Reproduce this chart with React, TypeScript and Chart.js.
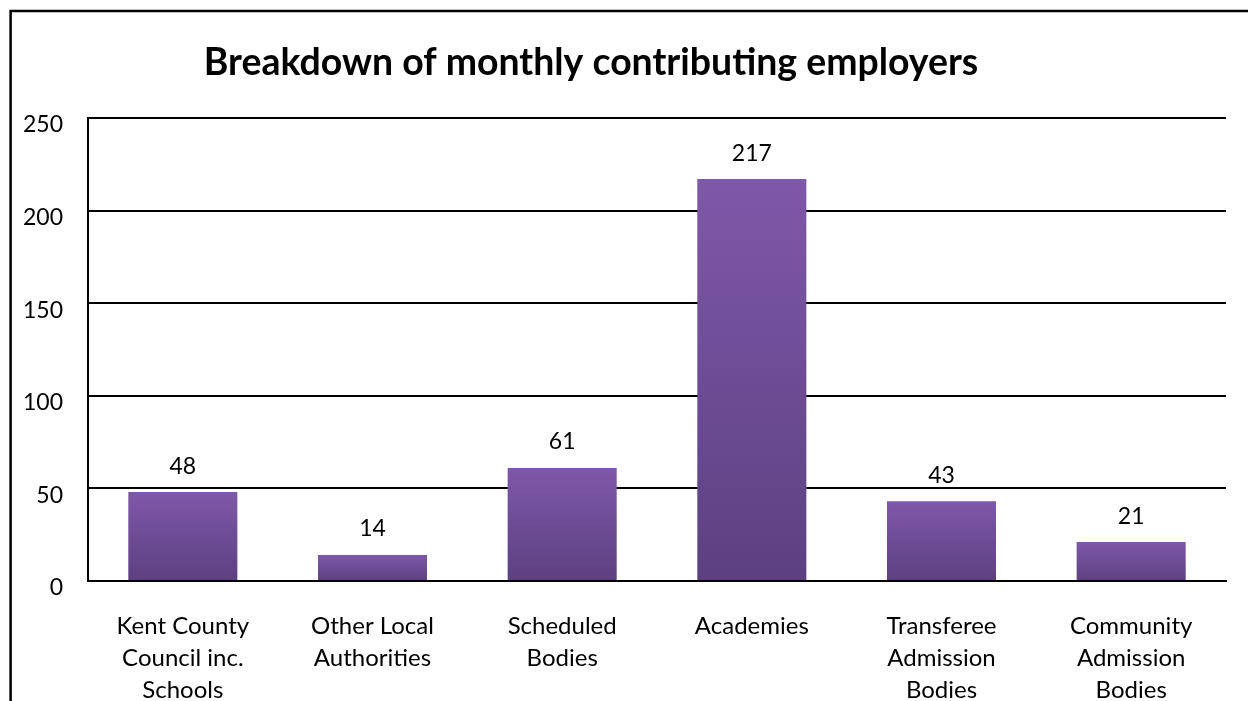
import React, { useEffect, useRef } from "react";
import { Chart, registerables } from "chart.js";

Chart.register(...registerables);

const TITLE = "Breakdown of monthly contributing employers";
const categories: string[][] = [
  ["Kent County", "Council inc.", "Schools"],
  ["Other Local", "Authorities"],
  ["Scheduled", "Bodies"],
  ["Academies"],
  ["Transferee", "Admission", "Bodies"],
  ["Community", "Admission", "Bodies"],
];
const employers: number[] = [48, 14, 61, 217, 43, 21];
const yMin = 0;
const yMax = 250;
const yStep = 50;

const FONT = "Lato, 'Open Sans', sans-serif";

const framePlugin = {
  id: "frame",
  beforeDraw(chart: any) {
    const ctx = chart.ctx;
    ctx.save();
    ctx.fillStyle = "#fff";
    ctx.fillRect(0, 0, chart.width, chart.height);
    ctx.strokeStyle = "#000";
    ctx.lineWidth = 2.5;
    ctx.strokeRect(10.6, 11, chart.width + 50, chart.height + 50);
    // title, fitted to the reference width
    const target = 775;
    ctx.font = `bold 100px ${FONT}`;
    const w = ctx.measureText(TITLE).width;
    const size = (100 * target) / w;
    ctx.font = `bold ${size}px ${FONT}`;
    ctx.fillStyle = "#000";
    ctx.textAlign = "center";
    ctx.textBaseline = "alphabetic";
    ctx.fillText(TITLE, 591, 75);
    ctx.restore();
  },
};

const labelPlugin = {
  id: "valueLabels",
  afterDatasetsDraw(chart: any) {
    const ctx = chart.ctx;
    const meta = chart.getDatasetMeta(0);
    ctx.save();
    ctx.font = `23px ${FONT}`;
    ctx.fillStyle = "#000";
    ctx.textAlign = "center";
    ctx.textBaseline = "middle";
    meta.data.forEach((bar: any, i: number) => {
      ctx.fillText(String(employers[i]), bar.x, bar.y - 26);
    });
    ctx.restore();
  },
};

export default function App() {
  const ref = useRef<HTMLCanvasElement | null>(null);
  useEffect(() => {
    document.body.style.margin = "0";
    const canvas = ref.current!;
    const chart = new Chart(canvas, {
      type: "bar",
      data: {
        labels: categories,
        datasets: [
          {
            data: employers,
            backgroundColor: (c: any) => {
              const ch = c.chart;
              if (!ch.chartArea || !ch.scales.y) return "#6e4d98";
              const y = ch.scales.y;
              const top = y.getPixelForValue(c.raw ?? 0);
              const bottom = y.getPixelForValue(0);
              if (!isFinite(top) || !isFinite(bottom) || top === bottom) return "#6e4d98";
              const g = ch.ctx.createLinearGradient(0, top, 0, bottom);
              g.addColorStop(0, "#7e58a9");
              g.addColorStop(1, "#5d4081");
              return g;
            },
            borderWidth: 0,
            categoryPercentage: 1,
            barPercentage: 0.575,
          },
        ],
      },
      options: {
        responsive: false,
        animation: false,
        layout: { padding: { top: 118, left: 0, right: 22, bottom: 0 } },
        plugins: {
          legend: { display: false },
          tooltip: { enabled: false },
          title: { display: false },
        },
        scales: {
          x: {
            grid: { display: false, drawTicks: false },
            border: { display: true, color: "#000", width: 2 },
            ticks: {
              color: "#000",
              font: { family: FONT, size: 24, lineHeight: 1.3333 },
              padding: 29,
              maxRotation: 0,
              autoSkip: false,
            },
            afterFit: (s: any) => {
              s.height = 120;
            },
          },
          y: {
            min: yMin,
            max: yMax,
            grid: { color: "#000", lineWidth: 2, drawTicks: false },
            border: { display: true, color: "#000", width: 2 },
            ticks: {
              stepSize: yStep,
              color: "#000",
              font: { family: FONT, size: 23 },
              padding: 25,
              labelOffset: 7,
            },
            afterFit: (s: any) => {
              s.width = 88;
            },
          },
        },
      },
      plugins: [framePlugin, labelPlugin],
    });
    return () => chart.destroy();
  }, []);
  return (
    <div style={{ position: "absolute", left: 0, top: 0, width: 1248, height: 701 }}>
      <canvas ref={ref} width={1248} height={701} style={{ display: "block" }} />
    </div>
  );
}
